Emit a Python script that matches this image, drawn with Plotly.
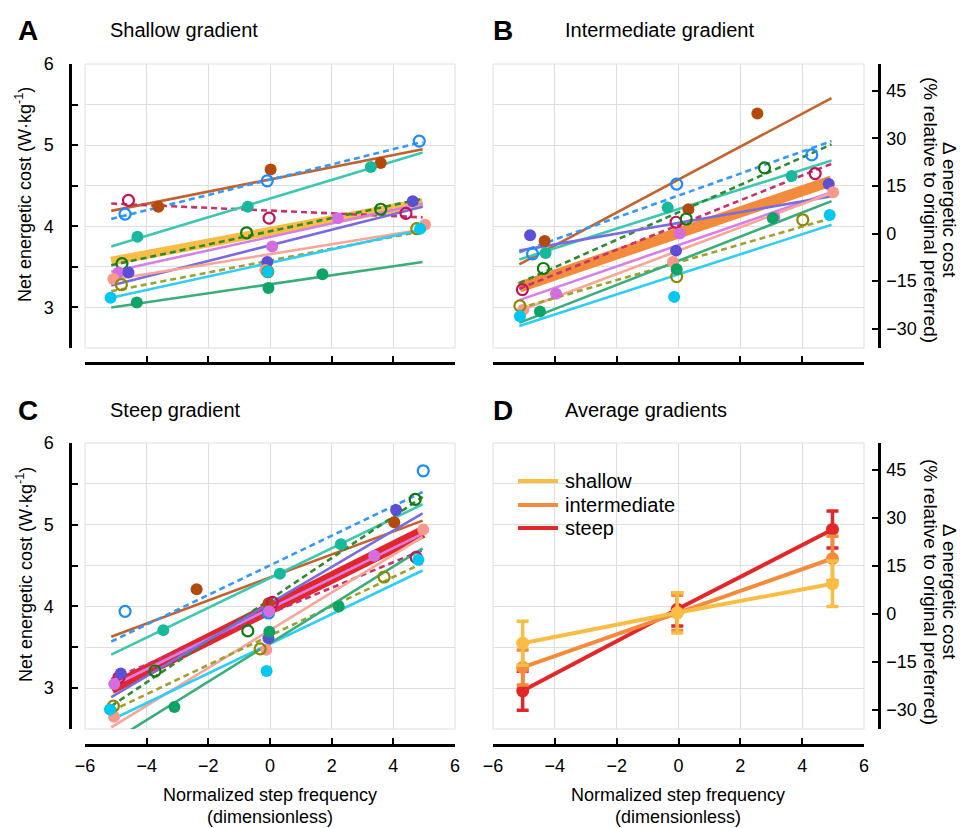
import plotly.graph_objects as go

W, H = 975, 828
FONT = "Liberation Sans, Arial, Helvetica, sans-serif"

# ---------------- data ----------------
SUBJECT_MARKER_COLORS = ["#b4490c", "#1a8cff", "#c0145a", "#17b89e", "#107a10", "#d46ee0",
                         "#5b4fd6", "#f7998a", "#8a8a00", "#00c6f2", "#10a366"]
SUBJECT_LINE_COLORS = ["#c4622d", "#3399ff", "#c8336e", "#3cc8b0", "#2e8b2e", "#d77fe6",
                       "#7a6ce0", "#f9a598", "#a0a030", "#30cdf5", "#3aae7a"]
SUBJECT_OPEN = [False, True, True, False, True, False, False, False, True, False, False]

FIT_X = [-5.15, 4.95]

SHALLOW_X = [[-3.62, 0.02, 3.59], [-4.70, -0.09, 4.84], [-4.59, -0.03, 4.41], [-4.30, -0.72, 3.27],
             [-4.80, -0.76, 3.59], [-4.91, 0.07, 2.20], [-4.59, -0.09, 4.63], [-5.08, -0.15, 5.03],
             [-4.82, -0.07, 4.76], [-5.17, -0.07, 4.87], [-4.32, -0.05, 1.70]]
SHALLOW_Y = [[4.24, 4.70, 4.78], [4.15, 4.56, 5.05], [4.32, 4.10, 4.16], [3.87, 4.24, 4.73],
             [3.54, 3.92, 4.21], [3.43, 3.75, 4.10], [3.43, 3.56, 4.31], [3.35, 3.46, 4.02],
             [3.28, 3.44, 3.97], [3.12, 3.44, 3.97], [3.06, 3.24, 3.41]]
SHALLOW_FIT = [[4.19, 4.95], [4.09, 5.04], [4.28, 4.11], [3.75, 4.91], [3.52, 4.34], [3.44, 4.28],
               [3.27, 4.24], [3.34, 3.96], [3.20, 3.94], [3.12, 3.96], [3.00, 3.56]]
SHALLOW_MEAN = [3.57, 4.29]

INTER_X = [[-4.33, 0.32, 2.55], [-4.72, -0.06, 4.31], [-5.05, -0.08, 4.42], [-4.30, -0.35, 3.66],
           [-4.37, 0.25, 2.78], [-3.96, 0.04, 3.10], [-4.80, -0.08, 4.86], [-5.02, -0.18, 5.00],
           [-5.13, -0.06, 4.02], [-5.13, -0.14, 4.89], [-4.48, -0.06, 3.05]]
INTER_Y = [[3.82, 4.21, 5.39], [3.66, 4.52, 4.88], [3.22, 4.05, 4.65], [3.67, 4.23, 4.62],
           [3.48, 4.09, 4.72], [3.17, 3.91, 4.11], [3.89, 3.70, 4.52], [2.97, 3.56, 4.42],
           [3.02, 3.38, 4.08], [2.89, 3.13, 4.14], [2.95, 3.47, 4.10]]
INTER_FIT = [[3.53, 5.58], [3.68, 5.05], [3.23, 4.77], [3.59, 4.81], [3.30, 5.01], [3.09, 4.42],
             [3.70, 4.37], [2.96, 4.41], [2.99, 4.10], [2.77, 4.02], [2.81, 4.31]]
INTER_MEAN = [3.25, 4.56]

STEEP_X = [[-2.38, -0.05, 4.03], [-4.70, -0.05, 4.97], [-4.90, 0.08, 4.74], [-3.46, 0.32, 2.30],
           [-3.73, -0.72, 4.71], [-5.05, -0.03, 3.38], [-4.84, -0.05, 4.09], [-5.06, -0.12, 4.97],
           [-5.08, -0.32, 3.70], [-5.19, -0.11, 4.81], [-3.10, -0.02, 2.23]]
STEEP_Y = [[4.21, 4.04, 5.03], [3.94, 3.92, 5.66], [3.13, 4.05, 4.60], [3.71, 4.40, 4.76],
           [3.21, 3.70, 5.31], [3.05, 3.94, 4.62], [3.18, 3.61, 5.18], [2.65, 3.47, 4.94],
           [2.78, 3.48, 4.36], [2.74, 3.21, 4.57], [2.77, 3.69, 4.00]]
STEEP_FIT = [[3.63, 5.05], [3.57, 5.40], [3.11, 4.69], [3.41, 5.25], [2.78, 5.34], [3.02, 4.89],
             [2.89, 5.14], [2.52, 4.85], [2.72, 4.53], [2.61, 4.44], [2.34, 4.71]]
STEEP_MEAN = [3.00, 4.91]

AVG_X = [-5.04, -0.04, 4.98]
AVG_SHALLOW = [-9.2, 0.3, 9.4]
AVG_SHALLOW_ERR = [6.9, 6.3, 7.1]
AVG_INTER = [-16.8, 0.3, 17.3]
AVG_INTER_ERR = [5.5, 5.5, 7.0]
AVG_STEEP = [-24.1, 1.4, 26.4]
AVG_STEEP_ERR = [6.1, 5.2, 5.8]

GROUP_NAMES = ["shallow", "intermediate", "steep"]
GROUP_COLORS = ["#f9bd45", "#f28b3b", "#e3262a"]

X_RANGE = [-6, 6]
X_TICKS = [-6, -4, -2, 0, 2, 4, 6]
Y_RANGE = [2.5, 6.0]
Y_TICKS = [3, 4, 5, 6]
Y_MINOR = [2.5, 3.5, 4.5, 5.5]
BASELINE = 3.91
PCT_RANGE = [(Y_RANGE[0] / BASELINE - 1) * 100, (Y_RANGE[1] / BASELINE - 1) * 100]
PCT_TICKS = [-30, -15, 0, 15, 30, 45]
PCT_MINOR = [PCT_RANGE[0], PCT_RANGE[1]]


def px(xp):
    return xp / W


def py(yp):
    return 1 - yp / H


fig = go.Figure()


def add_panel(xa, ya, xs, ys, fits, mean, mean_color, mean_width):
    fig.add_trace(go.Scatter(x=FIT_X, y=mean, mode="lines", xaxis=xa, yaxis=ya,
                             line=dict(color=mean_color, width=mean_width), showlegend=False,
                             hoverinfo="skip"))
    for i in range(len(xs)):
        fig.add_trace(go.Scatter(x=FIT_X, y=fits[i], mode="lines", xaxis=xa, yaxis=ya,
                                 line=dict(color=SUBJECT_LINE_COLORS[i], width=2.6,
                                           dash="6px,4px" if SUBJECT_OPEN[i] else "solid"),
                                 showlegend=False))
    for i in range(len(xs)):
        if SUBJECT_OPEN[i]:
            marker = dict(symbol="circle-open", size=11, color=SUBJECT_MARKER_COLORS[i],
                          line=dict(width=2.2, color=SUBJECT_MARKER_COLORS[i]))
        else:
            marker = dict(symbol="circle", size=12, color=SUBJECT_MARKER_COLORS[i],
                          line=dict(width=0))
        fig.add_trace(go.Scatter(x=xs[i], y=ys[i], mode="markers", xaxis=xa, yaxis=ya,
                                 marker=marker, showlegend=False))


add_panel("x", "y", SHALLOW_X, SHALLOW_Y, SHALLOW_FIT, SHALLOW_MEAN, GROUP_COLORS[0], 9)
add_panel("x2", "y2", INTER_X, INTER_Y, INTER_FIT, INTER_MEAN, GROUP_COLORS[1], 11)
add_panel("x3", "y3", STEEP_X, STEEP_Y, STEEP_FIT, STEEP_MEAN, GROUP_COLORS[2], 12)

# empty traces so that the grid-only and percent-axis subplots exist
fig.add_trace(go.Scatter(x=[None], y=[None], xaxis="x4", yaxis="y4", showlegend=False))
fig.add_trace(go.Scatter(x=[None], y=[None], xaxis="x5", yaxis="y5", showlegend=False))

# panel D (percent axis)
for vals, errs, col in [(AVG_STEEP, AVG_STEEP_ERR, GROUP_COLORS[2]),
                        (AVG_INTER, AVG_INTER_ERR, GROUP_COLORS[1]),
                        (AVG_SHALLOW, AVG_SHALLOW_ERR, GROUP_COLORS[0])]:
    fig.add_trace(go.Scatter(x=AVG_X, y=vals, mode="lines+markers", xaxis="x6", yaxis="y6",
                             line=dict(color=col, width=4),
                             marker=dict(size=13, color=col),
                             error_y=dict(type="data", array=errs, color=col, thickness=3.5, width=6),
                             showlegend=False))

# domains (px)
XD_L = [px(85), px(455)]
XD_R = [px(493), px(864)]
YD_T = [py(348), py(64)]
YD_B = [py(729), py(443)]

GRID = "#dedede"
tickfont = dict(family=FONT, size=18, color="black")
AXLINE = dict(showline=True, linecolor="black", linewidth=2.5, ticks="inside", ticklen=6,
              tickwidth=2, tickcolor="black")


def xaxis(domain, pos, labels):
    d = dict(domain=domain, range=X_RANGE, tickmode="array", tickvals=X_TICKS,
             showticklabels=labels, showgrid=True, gridcolor=GRID, gridwidth=1,
             zeroline=False, anchor="free", position=pos, tickfont=tickfont,
             ticklabelstandoff=4, automargin=False)
    d.update(AXLINE)
    return d


def hidden_x(domain, anchor):
    return dict(domain=domain, range=X_RANGE, visible=False, anchor=anchor, automargin=False)


def yaxis(domain, visible_axis, anchor, pos=0.0):
    d = dict(domain=domain, range=Y_RANGE, tickmode="array", tickvals=Y_TICKS,
             showgrid=True, gridcolor=GRID, gridwidth=1, zeroline=False,
             tickfont=tickfont, automargin=False)
    if visible_axis:
        d.update(AXLINE)
        d.update(anchor="free", position=pos, showticklabels=True, ticklabelstandoff=12,
                 minor=dict(tickmode="array", tickvals=Y_MINOR, ticks="inside", ticklen=6,
                            tickwidth=2, tickcolor="black", showgrid=True, gridcolor=GRID,
                            gridwidth=1))
    else:
        d.update(anchor=anchor, showline=False, ticks="", showticklabels=False,
                 minor=dict(tickmode="array", tickvals=Y_MINOR, ticks="", showgrid=True,
                            gridcolor=GRID, gridwidth=1))
    return d


def pctaxis(domain):
    d = dict(domain=domain, side="right", anchor="free", position=px(879),
             range=PCT_RANGE, tickmode="array", tickvals=PCT_TICKS,
             showgrid=False, zeroline=False, tickfont=tickfont, ticklabelstandoff=2,
             automargin=False,
             minor=dict(tickmode="array", tickvals=PCT_MINOR, ticks="inside", ticklen=6,
                        tickwidth=2, tickcolor="black", showgrid=False))
    d.update(AXLINE)
    return d


fig.update_layout(
    width=W, height=H, margin=dict(l=0, r=0, t=0, b=0, pad=0, autoexpand=False),
    paper_bgcolor="white", plot_bgcolor="rgba(0,0,0,0)",
    font=dict(family=FONT, size=18, color="black"),
    showlegend=False,
    xaxis=xaxis(XD_L, py(363), False),
    xaxis2=xaxis(XD_R, py(363), False),
    xaxis3=xaxis(XD_L, py(745), True),
    xaxis4=xaxis(XD_R, py(745), True),
    xaxis5=hidden_x(XD_R, "y5"),
    xaxis6=hidden_x(XD_R, "y6"),
    yaxis=yaxis(YD_T, True, None, px(70)),
    yaxis2=yaxis(YD_T, False, "x2"),
    yaxis3=yaxis(YD_B, True, None, px(70)),
    yaxis4=yaxis(YD_B, False, "x4"),
    yaxis5=pctaxis(YD_T),
    yaxis6=pctaxis(YD_B),
)

shapes = []
for xr, yr in [("x", "y"), ("x2", "y2"), ("x3", "y3"), ("x4", "y4")]:
    shapes.append(dict(type="rect", xref=xr + " domain", yref=yr + " domain", x0=0, x1=1, y0=0,
                       y1=1, line=dict(color=GRID, width=1), layer="below"))
# legend for panel D
legend_y = [481, 505, 528]
for name, col, yy in zip(GROUP_NAMES, GROUP_COLORS, legend_y):
    shapes.append(dict(type="line", xref="paper", yref="paper", x0=px(518), x1=px(558),
                       y0=py(yy), y1=py(yy), line=dict(color=col, width=4)))
fig.update_layout(shapes=shapes)

ann = []


def add_text(text, x, y, size, angle=0, xanchor="center", bold=False):
    ann.append(dict(text=("<b>%s</b>" % text) if bold else text, x=px(x), y=py(y),
                    xref="paper", yref="paper", showarrow=False, textangle=angle,
                    xanchor=xanchor, yanchor="middle",
                    font=dict(family=FONT, size=size, color="black")))


for letter, title, xl, xt, yy in [("A", "Shallow gradient", 28, 108, 30),
                                  ("B", "Intermediate gradient", 503, 563, 30),
                                  ("C", "Steep gradient", 28, 108, 410),
                                  ("D", "Average gradients", 503, 563, 410)]:
    add_text(letter, xl, yy, 28, bold=True)
    add_text(title, xt, yy, 20, xanchor="left")
for name, yy in zip(GROUP_NAMES, legend_y):
    add_text(name, 563, yy, 20, xanchor="left")
for yc in [195, 575]:
    add_text("Net energetic cost (W·kg<sup>-1</sup>)", 24, yc, 18, angle=-90)
for yc in [210, 592]:
    add_text("Δ energetic cost", 950, yc, 19, angle=90)
    add_text("(% relative to original preferred)", 931, yc, 19, angle=90)
for xc in [270, 678]:
    add_text("Normalized step frequency", xc, 795, 18)
    add_text("(dimensionless)", xc, 817, 18)
fig.update_layout(annotations=ann)

fig.write_html("out.html", config={"displayModeBar": False},
               post_script="document.body.style.margin='0px';")
